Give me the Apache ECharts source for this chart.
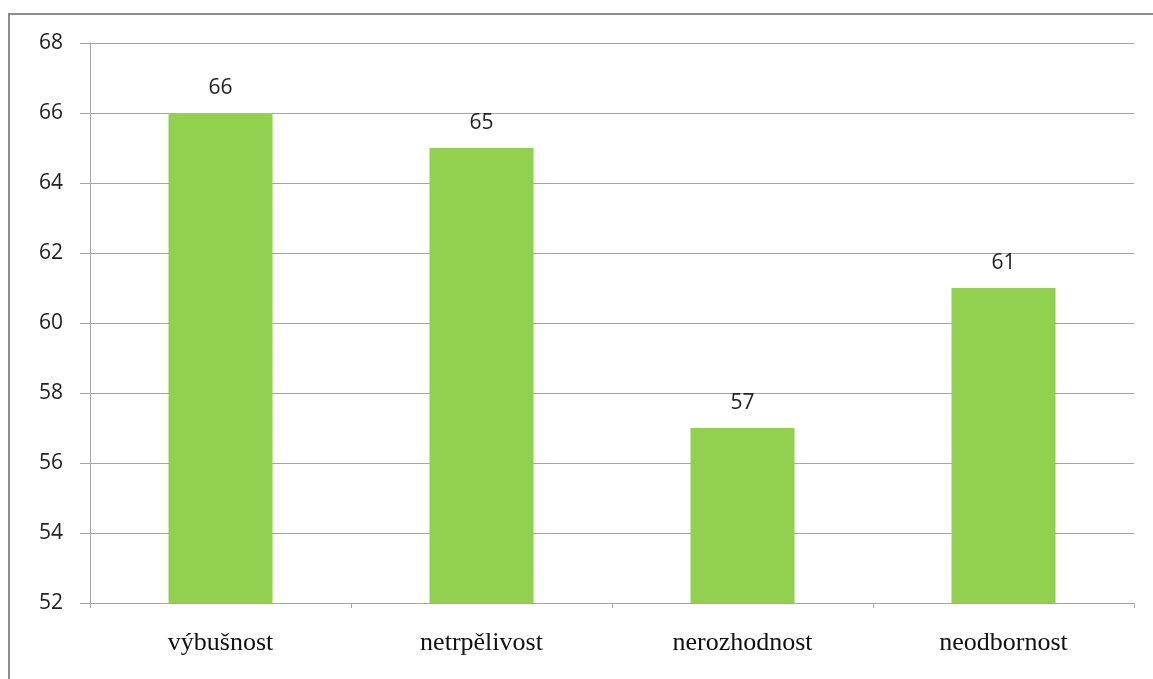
<!DOCTYPE html>
<html>
<head>
<meta charset="utf-8">
<script src="https://cdn.jsdelivr.net/npm/echarts@6/dist/echarts.min.js"></script>
<style>
  html, body { margin: 0; padding: 0; background: #fff; }
  #chartContainer { width: 1153px; height: 679px; }
</style>
</head>
<body>
<div id="chartContainer"></div>
<script>
const categories = ['výbušnost', 'netrpělivost', 'nerozhodnost', 'neodbornost'];
const values = [66, 65, 57, 61];
const yMin = 52;
const yMax = 68;
const yStep = 2;

const chart = echarts.init(document.getElementById('chartContainer'));

const gridColor = '#a6a6a6';

const option = {
    animation: false,
    graphic: [{
        type: 'rect',
        shape: { x: 9, y: 14, width: 1160, height: 700 },
        style: { fill: 'none', stroke: '#8c8c8c', lineWidth: 2 }
    }],
    grid: { left: 90, right: 19, top: 43, bottom: 76 },
    xAxis: {
        type: 'category',
        data: categories,
        axisLine: { lineStyle: { color: gridColor, width: 1 } },
        axisTick: { show: true, length: 5, lineStyle: { color: gridColor } },
        axisLabel: {
            margin: 27,
            fontFamily: 'Liberation Serif',
            fontSize: 26,
            color: '#111'
        }
    },
    yAxis: {
        type: 'value',
        min: yMin,
        max: yMax,
        interval: yStep,
        axisLine: { show: true, lineStyle: { color: gridColor, width: 1 } },
        axisTick: { show: true, length: 10, lineStyle: { color: gridColor } },
        splitLine: { show: true, lineStyle: { color: gridColor, width: 1 } },
        axisLabel: {
            margin: 27,
            fontFamily: 'Open Sans',
            fontSize: 21,
            color: '#222'
        }
    },
    series: [{
        type: 'bar',
        data: values,
        barWidth: 104,
        itemStyle: { color: '#92d050' },
        label: {
            show: true,
            position: 'top',
            distance: 14,
            fontFamily: 'Open Sans',
            fontSize: 21,
            color: '#222'
        }
    }]
};

chart.setOption(option);
</script>
</body>
</html>
